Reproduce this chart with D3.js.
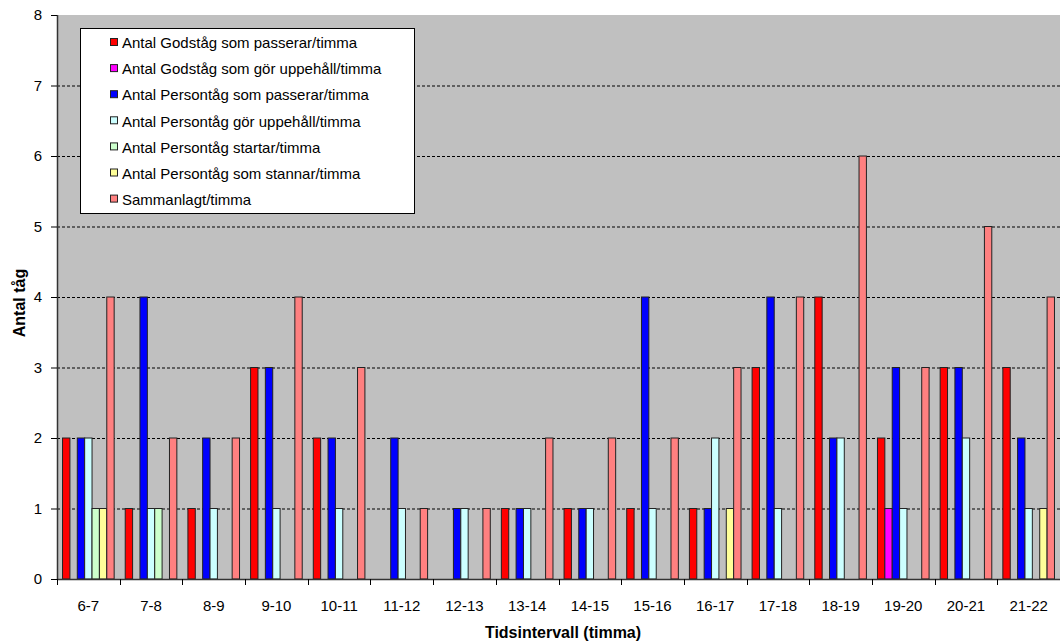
<!DOCTYPE html>
<html>
<head>
<meta charset="utf-8">
<script src="https://cdn.jsdelivr.net/npm/d3@7"></script>
<style>
  body { margin: 0; background: #fff; }
  svg { font-family: Arial, "Liberation Sans", sans-serif; }
</style>
</head>
<body>
<svg width="1060" height="642"></svg>
<script>
const categories = ["6-7", "7-8", "8-9", "9-10", "10-11", "11-12", "12-13", "13-14",
  "14-15", "15-16", "16-17", "17-18", "18-19", "19-20", "20-21", "21-22"];

const seriesNames = [
  "Antal Godståg som passerar/timma",
  "Antal Godståg som gör uppehåll/timma",
  "Antal Persontåg som passerar/timma",
  "Antal Persontåg gör uppehåll/timma",
  "Antal Persontåg startar/timma",
  "Antal Persontåg som stannar/timma",
  "Sammanlagt/timma"
];
const seriesColors = ["#ff0000", "#ff00ff", "#0000ff", "#ccffff", "#ccffcc", "#ffff99", "#ff8080"];

const godsPasserar   = [2, 1, 1, 3, 2, 0, 0, 1, 1, 1, 1, 3, 4, 2, 3, 3];
const godsUppehall   = [0, 0, 0, 0, 0, 0, 0, 0, 0, 0, 0, 0, 0, 1, 0, 0];
const personPasserar = [2, 4, 2, 3, 2, 2, 1, 1, 1, 4, 1, 4, 2, 3, 3, 2];
const personUppehall = [2, 1, 1, 1, 1, 1, 1, 1, 1, 1, 2, 1, 2, 1, 2, 1];
const personStartar  = [1, 1, 0, 0, 0, 0, 0, 0, 0, 0, 0, 0, 0, 0, 0, 0];
const personStannar  = [1, 0, 0, 0, 0, 0, 0, 0, 0, 0, 1, 0, 0, 0, 0, 1];
const sammanlagt     = [4, 2, 2, 4, 3, 1, 1, 2, 2, 2, 3, 4, 6, 3, 5, 4];

const yTicks = [0, 1, 2, 3, 4, 5, 6, 7, 8];

const seriesValues = [godsPasserar, godsUppehall, personPasserar, personUppehall,
  personStartar, personStannar, sammanlagt];

const svg = d3.select("svg");
const margin = { top: 15, right: 0, bottom: 63, left: 57 };
const width = +svg.attr("width") - margin.left - margin.right;
const height = +svg.attr("height") - margin.top - margin.bottom;

const g = svg.append("g").attr("transform", `translate(${margin.left},${margin.top})`);

const x0 = d3.scaleBand().domain(categories).range([0, width]).padding(0);
// 7 bars + gap width 150%
const gapFrac = 1.5 / 8.5;
const x1 = d3.scaleBand().domain(d3.range(seriesNames.length))
  .range([x0.bandwidth() * gapFrac / 2, x0.bandwidth() * (1 - gapFrac / 2)]).padding(0);
const y = d3.scaleLinear().domain([0, 8]).range([height, 0]);

// plot background
g.append("rect")
  .attr("width", width)
  .attr("height", height)
  .attr("fill", "#c0c0c0");

// grid
g.append("g")
  .selectAll("line")
  .data(yTicks.filter((d) => d > 0 && d < 8))
  .join("line")
  .attr("x1", 0)
  .attr("x2", width)
  .attr("y1", (d) => y(d) + 0.5)
  .attr("y2", (d) => y(d) + 0.5)
  .attr("stroke", "#000")
  .attr("stroke-dasharray", "3,2");

// bars
const cat = g.append("g")
  .selectAll("g")
  .data(categories)
  .join("g")
  .attr("transform", (d) => `translate(${x0(d)},0)`);

cat.selectAll("rect")
  .data((d, i) => seriesValues.map((vals, s) => ({ s, v: vals[i] })))
  .join("rect")
  .attr("x", (d) => x1(d.s))
  .attr("width", x1.bandwidth())
  .attr("y", (d) => y(d.v))
  .attr("height", (d) => y(0) - y(d.v))
  .attr("fill", (d) => seriesColors[d.s])
  .attr("stroke", "#222")
  .attr("stroke-width", 1)
  .attr("display", (d) => (d.v > 0 ? null : "none"));

// y axis
const yAxis = g.append("g")
  .call(d3.axisLeft(y).tickValues(yTicks).tickSize(6).tickPadding(9).tickFormat(d3.format("d")));
yAxis.select(".domain").attr("stroke", "#333").attr("stroke-width", 1.5).attr("d", `M0.5,0V${height}`);
yAxis.selectAll("text").attr("font-size", 15).attr("font-family", "Arial, 'Liberation Sans', sans-serif");

// x axis
const xAxis = g.append("g")
  .attr("transform", `translate(0,${height})`)
  .call(d3.axisBottom(x0).tickSize(0).tickPadding(21));
xAxis.select(".domain").attr("stroke", "#333").attr("stroke-width", 1.5).attr("d", `M0,0.5H${width}`);
xAxis.selectAll("text").attr("font-size", 15).attr("font-family", "Arial, 'Liberation Sans', sans-serif");
g.append("g")
  .selectAll("line")
  .data(d3.range(categories.length + 1))
  .join("line")
  .attr("x1", (i) => Math.round(i * x0.step()) + 0.5)
  .attr("x2", (i) => Math.round(i * x0.step()) + 0.5)
  .attr("y1", height)
  .attr("y2", height + 6)
  .attr("stroke", "#000");

// axis titles
svg.append("text")
  .attr("x", 563)
  .attr("y", 638)
  .attr("text-anchor", "middle")
  .attr("font-size", 16)
  .attr("font-weight", "bold")
  .text("Tidsintervall (timma)");

svg.append("text")
  .attr("transform", `translate(25,303) rotate(-90)`)
  .attr("text-anchor", "middle")
  .attr("font-size", 16)
  .attr("font-weight", "bold")
  .text("Antal tåg");

// legend
const legend = svg.append("g").attr("transform", "translate(80,28)");
legend.append("rect")
  .attr("x", 0.5)
  .attr("y", 0.5)
  .attr("width", 334)
  .attr("height", 185)
  .attr("fill", "#fff")
  .attr("stroke", "#000");

const item = legend.selectAll("g.item")
  .data(seriesNames)
  .join("g")
  .attr("class", "item")
  .attr("transform", (d, i) => `translate(0,${15 + i * 26.1})`);

item.append("rect")
  .attr("x", 30.5)
  .attr("y", -4.5)
  .attr("width", 7)
  .attr("height", 7)
  .attr("fill", (d, i) => seriesColors[i])
  .attr("stroke", "#222");

item.append("text")
  .attr("x", 42)
  .attr("y", 0)
  .attr("dy", "0.35em")
  .attr("font-size", 15)
  .text((d) => d);
</script>
</body>
</html>
